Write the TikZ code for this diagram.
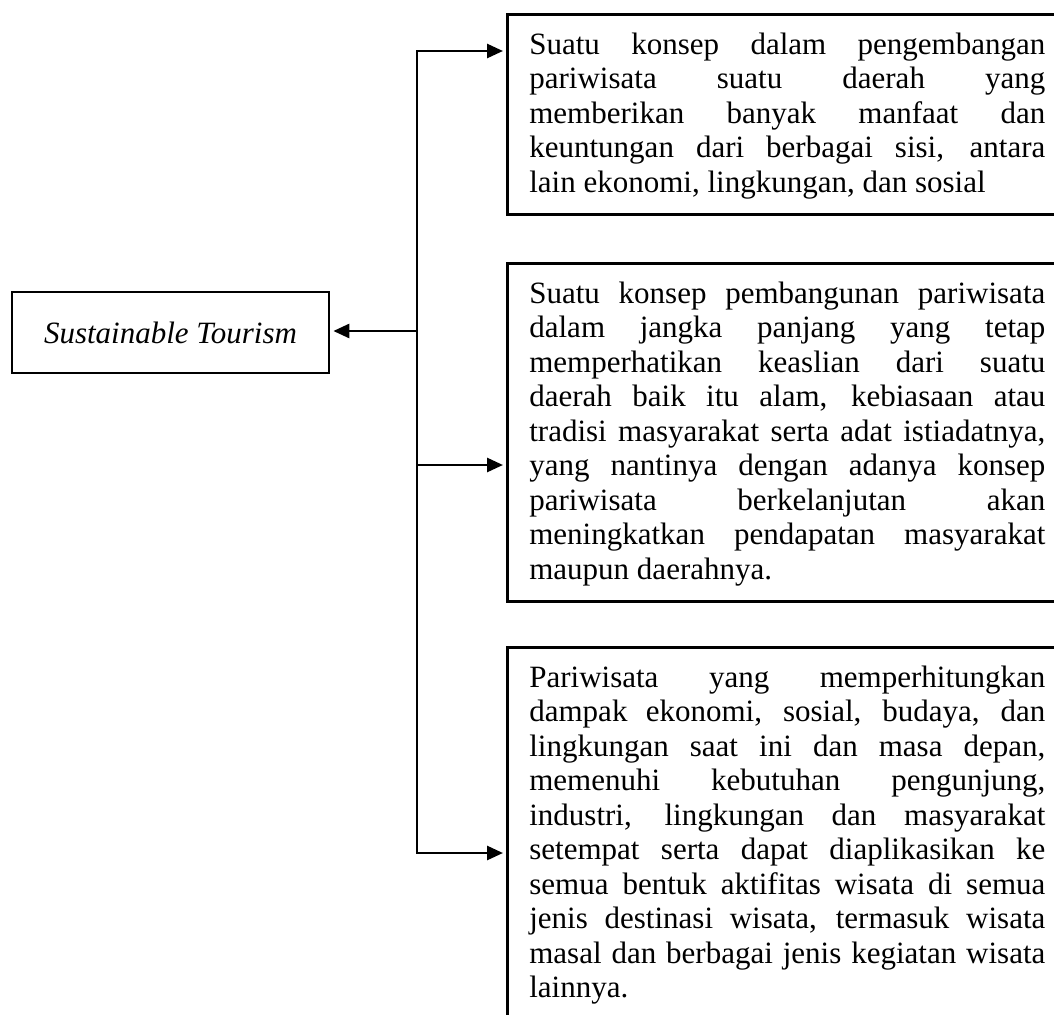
\documentclass[tikz,border=0pt]{standalone}
\usepackage{fontspec}
\setmainfont{Liberation Serif}
\usetikzlibrary{arrows.meta}
\newcommand\bodyfont{\fontsize{31}{34.5}\selectfont\tolerance=10000\hbadness=10000\hyphenpenalty=10000\exhyphenpenalty=10000}
\newcommand\toprule{\rule{0pt}{40pt}}
\newcommand\botrule{\rule[-22pt]{0pt}{22pt}}
\tikzset{
  conn/.style={line width=2.7pt, -{Triangle[length=16pt,width=14pt]}, shorten >=3pt},
  trunk/.style={line width=2.7pt, line cap=rect},
  descbox/.style={draw, line width=2.7pt, anchor=north west, text width=516pt,
    inner xsep=22pt, inner ysep=0pt, align=justify, font=\bodyfont},
  titlebox/.style={draw, line width=2.7pt, minimum width=317pt, minimum height=81pt,
    inner sep=0pt, font=\bodyfont\itshape}
}
\begin{document}
\begin{tikzpicture}[x=1pt,y=-1pt]
\useasboundingbox (0,0) rectangle (1054,1014);
\clip (0,0) rectangle (1054,1014);

\node[descbox] (b1) at (506,13) {\noindent\toprule Suatu konsep dalam pengembangan\linebreak
pariwisata suatu daerah yang\linebreak
memberikan banyak manfaat dan\linebreak
keuntungan dari berbagai sisi, antara\linebreak
lain ekonomi, lingkungan, dan sosial\botrule};

\node[descbox] (b2) at (506,262) {\noindent\toprule Suatu konsep pembangunan pariwisata\linebreak
dalam jangka panjang yang tetap\linebreak
memperhatikan keaslian dari suatu\linebreak
daerah baik itu alam, kebiasaan atau\linebreak
tradisi masyarakat serta adat istiadatnya,\linebreak
yang nantinya dengan adanya konsep\linebreak
pariwisata berkelanjutan akan\linebreak
meningkatkan pendapatan masyarakat\linebreak
maupun daerahnya.\botrule};

\node[descbox] (b3) at (506,646) {\noindent\toprule Pariwisata yang memperhitungkan\linebreak
dampak ekonomi, sosial, budaya, dan\linebreak
lingkungan saat ini dan masa depan,\linebreak
memenuhi kebutuhan pengunjung,\linebreak
industri, lingkungan dan masyarakat\linebreak
setempat serta dapat diaplikasikan ke\linebreak
semua bentuk aktifitas wisata di semua\linebreak
jenis destinasi wisata, termasuk wisata\linebreak
masal dan berbagai jenis kegiatan wisata\linebreak
lainnya.\botrule};

\node[titlebox] (st) at (170.5,332.5) {Sustainable Tourism};

\coordinate (jt) at (417,51);
\coordinate (jl) at (417,331);
\coordinate (jm) at (417,465);
\coordinate (jb) at (417,853);

\draw[trunk] (jt) -- (jb);
\draw[conn] (jt) -- (jt -| b1.west);
\draw[conn] (jm) -- (jm -| b2.west);
\draw[conn] (jb) -- (jb -| b3.west);
\draw[conn] (jl) -- (jl -| st.east);
\end{tikzpicture}
\end{document}
